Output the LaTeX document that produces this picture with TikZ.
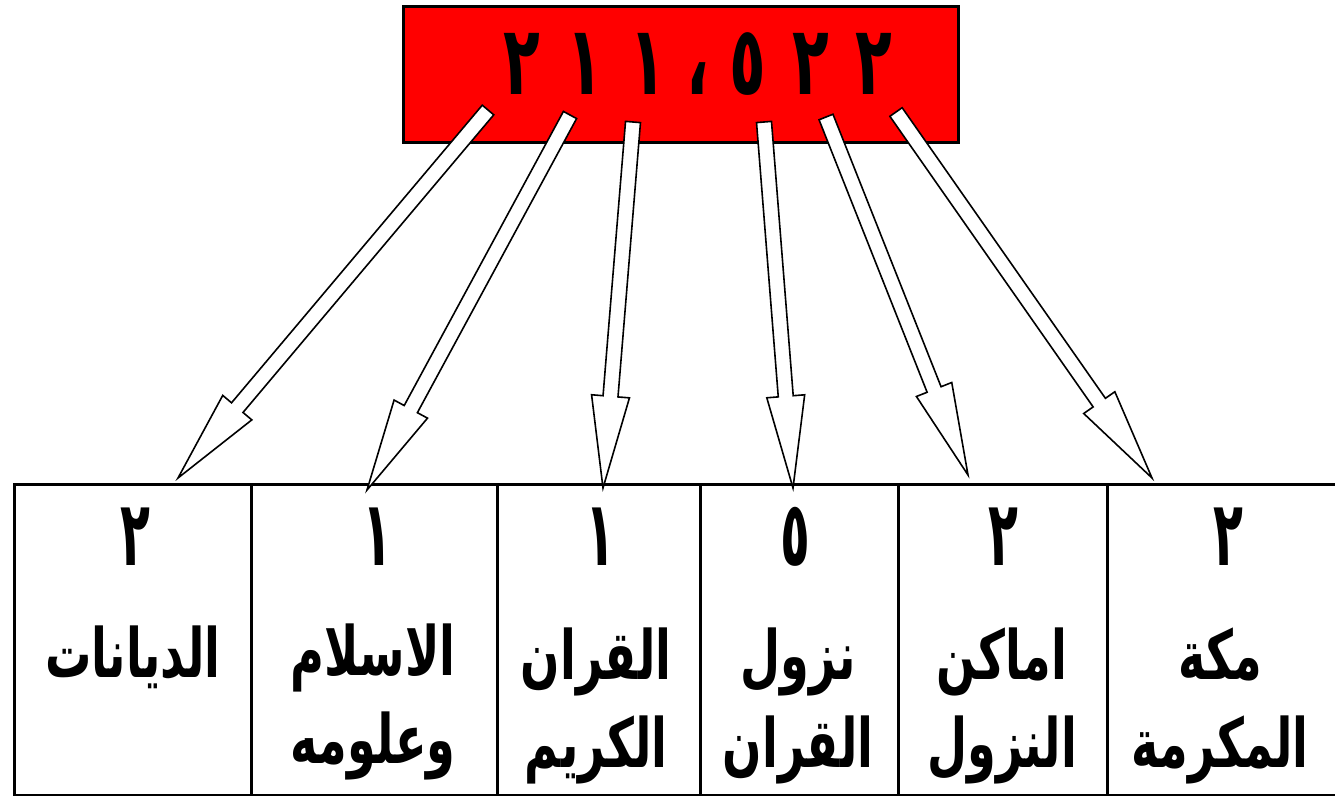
\documentclass[tikz,border=0pt]{standalone}
\usepackage{fontspec}
\usepackage{graphicx}
\usetikzlibrary{calc}
\TeXXeTstate=1
\newfontfamily\arabicfont[Script=Arabic]{DejaVu Sans}
\newcommand{\arw}[1]{\scalebox{0.68}[1]{\arabicfont\bfseries\beginR #1\endR}}
\newcommand{\dg}[2]{\makebox[#1pt]{\scalebox{0.7}[1.12]{#2}}}
\newcommand{\cd}[1]{\scalebox{0.68}[1.26]{#1}}
\tikzset{
  numbox/.style={draw=black,fill=red,line width=3pt,inner sep=0pt,anchor=north west},
  cellbox/.style={draw=black,line width=2.5pt,inner sep=0pt,anchor=north west,minimum height=311pt},
  bigdigits/.style={font=\arabicfont\bfseries\fontsize{86}{86}\selectfont,inner sep=0pt},
  celldigit/.style={font=\arabicfont\bfseries\fontsize{72}{72}\selectfont,inner sep=0pt},
  celltext/.style={font=\fontsize{68}{88}\selectfont,align=center,inner sep=0pt},
  hollow/.style={fill=white,draw=black,line width=1.6pt,line join=miter}
}
\newcommand{\hollowarrow}[2]{%
  \coordinate (hb) at ($(#2)!92pt!(#1)$);
  \draw[hollow] ($(#1)!7.5pt!90:(#2)$) -- ($(hb)!7.5pt!90:(#2)$) -- ($(hb)!19pt!90:(#2)$)
     -- (#2) -- ($(hb)!19pt!-90:(#2)$) -- ($(hb)!7.5pt!-90:(#2)$) -- ($(#1)!7.5pt!-90:(#2)$) -- cycle;
}
\begin{document}
\begin{tikzpicture}[x=1pt,y=-1pt]
\useasboundingbox (0,0) rectangle (1335,795);
% top box
\node[numbox,minimum width=555pt,minimum height=136pt] (num) at (402,5) {};
\node[bigdigits] (numtext) at (698,64) {\dg{63}{٢}\dg{63}{١}\dg{63}{١}\dg{37}{،}\dg{63}{٥}\dg{63}{٢}\dg{63}{٢}};
% arrow ends
\coordinate (t1) at (488,110); \coordinate (h1) at (178,478);
\coordinate (t2) at (570,115); \coordinate (h2) at (367,490);
\coordinate (t3) at (633,122); \coordinate (h3) at (603,488);
\coordinate (t4) at (764,122); \coordinate (h4) at (793,488);
\coordinate (t5) at (826,117); \coordinate (h5) at (968,475);
\coordinate (t6) at (896,112); \coordinate (h6) at (1152,478);
% cells
\node[cellbox,minimum width=237pt] (c1) at (13,483) {};
\node[cellbox,minimum width=246pt] (c2) at (250,483) {};
\node[cellbox,minimum width=203pt] (c3) at (496,483) {};
\node[cellbox,minimum width=198pt] (c4) at (699,483) {};
\node[cellbox,minimum width=209pt] (c5) at (897,483) {};
\node[cellbox,minimum width=240pt] (c6) at (1106,483) {};
% arrows
\hollowarrow{t1}{h1}
\hollowarrow{t2}{h2}
\hollowarrow{t3}{h3}
\hollowarrow{t4}{h4}
\hollowarrow{t5}{h5}
\hollowarrow{t6}{h6}
% digits in cells
\node[celldigit] (d1) at (135,537) {\cd{٢}};
\node[celldigit] (d2) at (377,537) {\cd{١}};
\node[celldigit] (d3) at (600,537) {\cd{١}};
\node[celldigit] (d4) at (795,537) {\cd{٥}};
\node[celldigit] (d5) at (1003,537) {\cd{٢}};
\node[celldigit] (d6) at (1228,537) {\cd{٢}};
% texts
\node[celltext] (x1) at (133,657) {\arw{الديانات}};
\node[celltext] (x2) at (373,702) {\arw{الاسلام}\\\arw{وعلومه}};
\node[celltext] (x3) at (596,706) {\arw{القران}\\\arw{الكريم}};
\node[celltext] (x4) at (798,706) {\arw{نزول}\\\arw{القران}};
\node[celltext] (x5) at (1002,706) {\arw{اماكن}\\\arw{النزول}};
\node[celltext] (x6) at (1220,706) {\arw{مكة}\\\arw{المكرمة}};
\end{tikzpicture}
\end{document}
